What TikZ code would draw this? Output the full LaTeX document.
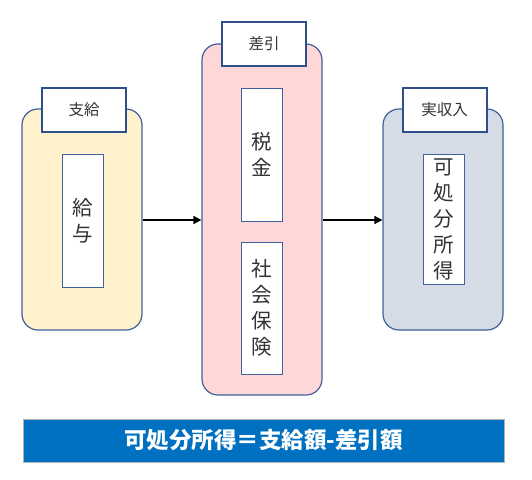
\documentclass[tikz,border=0pt]{standalone}
\usepackage{fontspec}
\setmainfont{Noto Sans CJK JP}
\usetikzlibrary{arrows.meta}
\definecolor{frameblue}{HTML}{41619C}
\definecolor{darkblue}{HTML}{2F4F8A}
\definecolor{paleyellow}{HTML}{FFF2CC}
\definecolor{palepink}{HTML}{FFD7D9}
\definecolor{palegray}{HTML}{D6DCE5}
\definecolor{barblue}{HTML}{0070C0}
\tikzset{
  groupbox/.style={draw=frameblue, line width=1.2pt, rounded corners=16pt, minimum width=120pt},
  titlebox/.style={draw=darkblue, line width=2pt, fill=white, minimum width=84pt, minimum height=44pt, font=\fontsize{15.5}{18}\selectfont, text=black!80},
  itembox/.style={draw=frameblue, line width=0.8pt, fill=white, minimum width=41pt, align=center, font=\fontsize{20.5}{26}\selectfont, text=black!80},
  flow/.style={-{Triangle[length=8pt,width=8pt]}, line width=1.6pt}
}
\begin{document}
\begin{tikzpicture}[x=1pt, y=-1pt]
    % Fix the size of the picture
    \useasboundingbox (0,0) rectangle (532,479);

    % Centres of the three groups
    \coordinate (center) at (82,219.5);
    \coordinate (middleGroup) at ([xshift=180pt] center);
    \coordinate (rightGroup) at ([xshift=361pt] center);

    \begin{scope}
      % Left group: salary
      \node[groupbox, fill=paleyellow, minimum height=221pt] (payBox) at (center) {};
      \node[titlebox] (payTitle) at (84,110) {支給};
      \node[itembox, minimum height=133pt] (salary) at (82.5,220.5) {給\\与};
    \end{scope}

    \begin{scope}
      % Middle group: deductions
      \node[groupbox, fill=palepink, minimum height=351pt] (deductBox) at (middleGroup) {};
      \node[titlebox] (deductTitle) at (264,44) {差引};
      \node[itembox, minimum height=133pt] (tax) at (262,154.5) {税\\金};
      \node[itembox, minimum height=132pt] (insurance) at (262,308) {社\\会\\保\\険};
    \end{scope}

    \begin{scope}
      % Right group: real income
      \node[groupbox, fill=palegray, minimum height=221pt] (incomeBox) at (rightGroup) {};
      \node[titlebox] (incomeTitle) at (444.5,110) {実収入};
      \node[itembox, minimum height=130pt] (disposable) at (443.5,219) {可\\処\\分\\所\\得};
    \end{scope}

    % Arrows between the groups
    \draw[flow] (payBox.east |- 0,220) -- (deductBox.west |- 0,220);
    \draw[flow] (deductBox.east |- 0,220) -- (incomeBox.west |- 0,220);

    % Formula bar
    \node[draw=black!30, line width=0.8pt, fill=barblue, minimum width=481pt, minimum height=43pt,
          text=white, font=\fontsize{22.5}{26}\selectfont\bfseries] (formula) at (263.5,440.5)
          {可処分所得＝支給額-差引額};
  \end{tikzpicture}
\end{document}
